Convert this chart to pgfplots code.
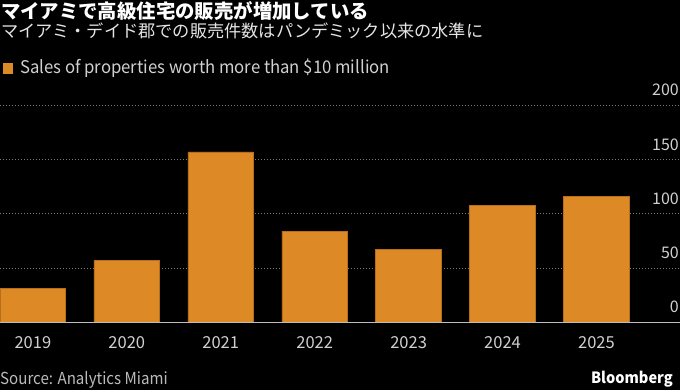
\documentclass[border=0pt]{standalone}
\usepackage{fontspec}
\setmainfont{Noto Sans CJK JP}
\usepackage{pgfplots}
\pgfplotsset{compat=1.18}
\definecolor{barorange}{HTML}{DD8A26}
\definecolor{baredge}{HTML}{B86F17}
\definecolor{gridgray}{HTML}{7A7A7A}
\definecolor{basegray}{HTML}{BDBDBD}
\definecolor{labelgray}{HTML}{D0D0D0}
\begin{document}
\begin{tikzpicture}
\fill[black] (0bp,0bp) rectangle (680bp,390bp);
\useasboundingbox (0bp,0bp) rectangle (680bp,390bp);
\begin{axis}[
  at={(0bp,67.7bp)}, anchor=south west,
  scale only axis, width=680bp, height=217bp,
  xmin=-0.3497, xmax=6.889, ymin=0, ymax=200,
  ybar, bar width=65.7bp,
  axis line style={draw=none}, tick style={draw=none},
  xtick={0,1,2,3,4,5,6},
  xticklabels={2019,2020,2021,2022,2023,2024,2025},
  ytick={0,50,100,150,200},
  ymajorgrids,
  grid style={gridgray, line width=0.9bp, dash pattern=on 1.2bp off 1.8bp},
  yticklabel pos=right,
  /pgf/number format/assume math mode=true,
  yticklabel style={anchor=south east, inner sep=0pt, xshift=-1bp, yshift=9bp,
    text=labelgray, font=\fontsize{16bp}{18bp}\selectfont},
  xticklabel style={anchor=north, inner sep=0pt, yshift=-10bp,
    text=labelgray, font=\fontsize{16.5bp}{18bp}\selectfont},
  clip=false,
]
\addplot[fill=barorange, draw=baredge, line width=0.6bp] coordinates {
 (0,31) (1,57) (2,157) (3,84) (4,67) (5,108) (6,116)};
\draw[basegray, line width=1.2bp] (rel axis cs:0,0) -- (rel axis cs:1,0);
\end{axis}
% titles
\node[anchor=base west, inner sep=0pt, text=white, font=\bfseries\fontsize{19.4bp}{21bp}\selectfont] at (1bp,371.5bp) {マイアミで高級住宅の販売が増加している};
\node[anchor=base west, inner sep=0pt, text=white!90!black, font=\fontsize{17.2bp}{19bp}\selectfont] at (1bp,352bp) {マイアミ・デイド郡での販売件数はパンデミック以来の水準に};
% legend
\fill[barorange] (2.7bp,316bp) rectangle (13.3bp,326.7bp);
\node[anchor=base west, inner sep=0pt, text=labelgray, font=\fontsize{17.5bp}{19bp}\selectfont] at (20bp,316bp) {\scalebox{0.955}[1]{Sales of properties worth more than \$10 million}};
% footer
\node[anchor=base west, inner sep=0pt, text=labelgray!90!black, font=\fontsize{16.5bp}{18bp}\selectfont] at (0bp,5.3bp) {\scalebox{0.915}[1]{Source: Analytics Miami}};
\node[anchor=base east, inner sep=0pt, text=white, font=\bfseries\fontsize{15.5bp}{18bp}\selectfont] at (673bp,7bp) {\scalebox{0.94}[1]{Bloomberg}};
\end{tikzpicture}
\end{document}
